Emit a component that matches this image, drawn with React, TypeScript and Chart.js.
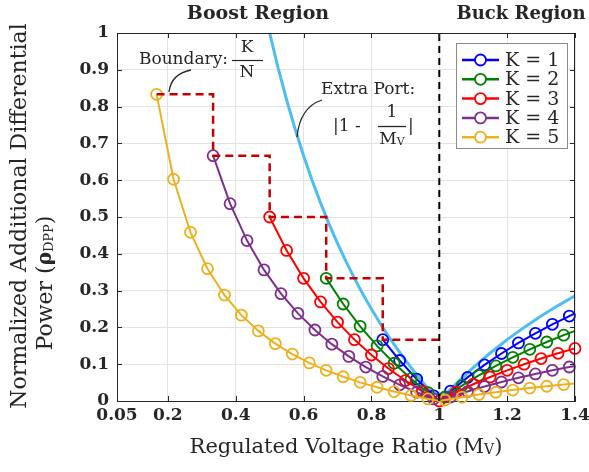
import React, { useEffect, useRef } from "react";
import { Chart, registerables } from "chart.js";
Chart.register(...registerables);

// ---------- data ----------
const xTickValues = [0.05, 0.2, 0.4, 0.6, 0.8, 1, 1.2, 1.4];
const xTickLabels = ["0.05", "0.2", "0.4", "0.6", "0.8", "1", "1.2", "1.4"];
const yTickValues = [0, 0.1, 0.2, 0.3, 0.4, 0.5, 0.6, 0.7, 0.8, 0.9, 1];
const yTickLabels = ["0", "0.1", "0.2", "0.3", "0.4", "0.5", "0.6", "0.7", "0.8", "0.9", "1"];

const seriesLabels = ["K = 1", "K = 2", "K = 3", "K = 4", "K = 5"];
const seriesColors = ["#0000FF", "#008000", "#FF0000", "#7E2F8E", "#EDB120"];

// marker points of each curve
const k1Mv = [0.8333, 0.8833, 0.9333, 0.9833, 1.0333, 1.0833, 1.1333, 1.1833, 1.2333, 1.2833, 1.3333, 1.3833];
const k1Rho = [0.1667, 0.1101, 0.0595, 0.0141, 0.0269, 0.0641, 0.098, 0.1291, 0.1577, 0.184, 0.2083, 0.2309];

const k2Mv = [0.6667, 0.7167, 0.7667, 0.8167, 0.8667, 0.9167, 0.9667, 1.0167, 1.0667, 1.1167, 1.1667, 1.2167, 1.2667, 1.3167, 1.3667];
const k2Rho = [0.3333, 0.2636, 0.2029, 0.1497, 0.1026, 0.0606, 0.023, 0.0109, 0.0417, 0.0697, 0.0952, 0.1187, 0.1404, 0.1603, 0.1789];

const k3Mv = [0.5, 0.55, 0.6, 0.65, 0.7, 0.75, 0.8, 0.85, 0.9, 0.95, 1.0, 1.05, 1.1, 1.15, 1.2, 1.25, 1.3, 1.35, 1.4];
const k3Rho = [0.5, 0.4091, 0.3333, 0.2692, 0.2143, 0.1667, 0.125, 0.0882, 0.0556, 0.0263, 0, 0.0238, 0.0455, 0.0652, 0.0833, 0.1, 0.1154, 0.1296, 0.1429];

const k4Mv = [0.3333, 0.3833, 0.4333, 0.4833, 0.5333, 0.5833, 0.6333, 0.6833, 0.7333, 0.7833, 0.8333, 0.8833, 0.9333, 0.9833, 1.0333, 1.0833, 1.1333, 1.1833, 1.2333, 1.2833, 1.3333, 1.3833];
const k4Rho = [0.6667, 0.5362, 0.4359, 0.3563, 0.2917, 0.2381, 0.193, 0.1545, 0.1212, 0.0922, 0.0667, 0.044, 0.0238, 0.0056, 0.0108, 0.0256, 0.0392, 0.0516, 0.0631, 0.0736, 0.0833, 0.0924];

const k5Mv = [0.1667, 0.2167, 0.2667, 0.3167, 0.3667, 0.4167, 0.4667, 0.5167, 0.5667, 0.6167, 0.6667, 0.7167, 0.7667, 0.8167, 0.8667, 0.9167, 0.9667, 1.0167, 1.0667, 1.1167, 1.1667, 1.2167, 1.2667, 1.3167, 1.3667];
const k5Rho = [0.8333, 0.6026, 0.4583, 0.3596, 0.2879, 0.2333, 0.1905, 0.1559, 0.1275, 0.1036, 0.0833, 0.0659, 0.0507, 0.0374, 0.0256, 0.0152, 0.0057, 0.0027, 0.0104, 0.0174, 0.0238, 0.0297, 0.0351, 0.0401, 0.0447];

// line-only vertices (valley at Mv = 1 and right edge)
const valleyMv = 1;
const valleyRho = 0;
const edgeMv = 1.4;
const edgeRho = [0.2381, 0.1905, 0.1429, 0.0952, 0.0476];

// extra port curve |1 - 1/Mv|
const portMv = [0.48, 0.5, 0.525, 0.55, 0.575, 0.6, 0.625, 0.65, 0.675, 0.7, 0.725, 0.75, 0.775, 0.8, 0.825, 0.85, 0.875, 0.9, 0.925, 0.95, 0.975, 1.0, 1.025, 1.05, 1.1, 1.15, 1.2, 1.25, 1.3, 1.35, 1.4];
const portRho = [1.0833, 1.0, 0.9048, 0.8182, 0.7391, 0.6667, 0.6, 0.5385, 0.4815, 0.4286, 0.3793, 0.3333, 0.2903, 0.25, 0.2121, 0.1765, 0.1429, 0.1111, 0.0811, 0.0526, 0.0256, 0.015, 0.0244, 0.0476, 0.0909, 0.1304, 0.1667, 0.2, 0.2308, 0.2593, 0.2857];

// boundary K/N staircase
const boundaryMv = [0.1667, 0.3333, 0.3333, 0.5, 0.5, 0.6667, 0.6667, 0.8333, 0.8333, 1.0];
const boundaryRho = [0.8333, 0.8333, 0.6667, 0.6667, 0.5, 0.5, 0.3333, 0.3333, 0.1667, 0.1667];

// buck/boost divider
const dividerMv = [1, 1];
const dividerRho = [0, 1];

// ---------- helpers ----------
const SERIF = '"DejaVu Serif", serif';
const TXT = "#262626";

const curveMv = [k1Mv, k2Mv, k3Mv, k4Mv, k5Mv];
const curveRho = [k1Rho, k2Rho, k3Rho, k4Rho, k5Rho];

function buildCurve(i: number) {
  const pts: { x: number; y: number; m: boolean }[] = curveMv[i].map((x, j) => ({ x, y: curveRho[i][j], m: true }));
  pts.push({ x: valleyMv, y: valleyRho, m: false });
  pts.push({ x: edgeMv, y: edgeRho[i], m: false });
  pts.sort((a, b) => a.x - b.x);
  return pts;
}

type Run = { t: string; font: string; dy?: number };
function drawRuns(ctx: CanvasRenderingContext2D, runs: Run[], cx: number, cy: number) {
  let total = 0;
  const widths = runs.map((r) => {
    ctx.font = r.font;
    const w = ctx.measureText(r.t).width;
    total += w;
    return w;
  });
  let x = cx - total / 2;
  ctx.textAlign = "left";
  ctx.textBaseline = "middle";
  runs.forEach((r, i) => {
    ctx.font = r.font;
    ctx.fillText(r.t, x, cy + (r.dy || 0));
    x += widths[i];
  });
}

const overlayPlugin = {
  id: "overlay",
  afterDraw(chart: any) {
    const ctx: CanvasRenderingContext2D = chart.ctx;
    const a = chart.chartArea;
    const xs = chart.scales.x;
    const ys = chart.scales.y;
    ctx.save();

    // box + inward ticks
    ctx.strokeStyle = "#262626";
    ctx.lineWidth = 1;
    ctx.beginPath();
    ctx.moveTo(a.left, a.top + 0.5);
    ctx.lineTo(a.right, a.top + 0.5);
    ctx.moveTo(a.right - 0.5, a.top);
    ctx.lineTo(a.right - 0.5, a.bottom);
    xTickValues.forEach((v) => {
      const px = Math.round(xs.getPixelForValue(v)) + 0.5;
      ctx.moveTo(px, a.bottom);
      ctx.lineTo(px, a.bottom - 5);
      ctx.moveTo(px, a.top);
      ctx.lineTo(px, a.top + 5);
    });
    yTickValues.forEach((v) => {
      const py = Math.round(ys.getPixelForValue(v)) + 0.5;
      ctx.moveTo(a.left, py);
      ctx.lineTo(a.left + 5, py);
      ctx.moveTo(a.right, py);
      ctx.lineTo(a.right - 5, py);
    });
    ctx.stroke();

    ctx.fillStyle = TXT;
    // region titles
    ctx.textAlign = "center";
    ctx.textBaseline = "middle";
    ctx.font = `bold 19px ${SERIF}`;
    ctx.fillText("Boost Region", 258, 14);
    ctx.font = `bold 18px ${SERIF}`;
    ctx.fillText("Buck Region", 521, 14);

    // x axis title
    drawRuns(
      ctx,
      [
        { t: "Regulated Voltage Ratio (M", font: `21px ${SERIF}` },
        { t: "V", font: `14px ${SERIF}`, dy: 2 },
        { t: ")", font: `21px ${SERIF}` },
      ],
      (a.left + a.right) / 2,
      448
    );

    // y axis title
    ctx.save();
    ctx.translate(20, 216);
    ctx.rotate(-Math.PI / 2);
    drawRuns(ctx, [{ t: "Normalized Additional Differential", font: `22px ${SERIF}` }], 0, 0);
    ctx.restore();
    ctx.save();
    ctx.translate(46, 283);
    ctx.rotate(-Math.PI / 2);
    drawRuns(
      ctx,
      [
        { t: "Power (", font: `22px ${SERIF}` },
        { t: "ρ", font: `bold 20px ${SERIF}` },
        { t: "DPP", font: `13px ${SERIF}`, dy: 4 },
        { t: ")", font: `22px ${SERIF}` },
      ],
      0,
      0
    );
    ctx.restore();

    // Boundary annotation
    ctx.font = `17px ${SERIF}`;
    ctx.textAlign = "right";
    ctx.textBaseline = "middle";
    ctx.fillText("Boundary:", 228, 60);
    ctx.textAlign = "center";
    ctx.fillText("K", 247, 48);
    ctx.fillText("N", 247, 73);
    ctx.strokeStyle = TXT;
    ctx.lineWidth = 1.2;
    ctx.beginPath();
    ctx.moveTo(232, 60.5);
    ctx.lineTo(263, 60.5);
    ctx.stroke();
    ctx.lineWidth = 1.3;
    ctx.beginPath();
    ctx.moveTo(191, 70);
    ctx.quadraticCurveTo(171, 74, 169, 92);
    ctx.stroke();

    // Extra Port annotation
    ctx.textAlign = "left";
    ctx.fillText("Extra Port:", 321, 90);
    ctx.fillText("|1 -", 333, 127);
    ctx.textAlign = "center";
    ctx.fillText("1", 392, 113);
    drawRuns(
      ctx,
      [
        { t: "M", font: `17px ${SERIF}` },
        { t: "V", font: `11px ${SERIF}`, dy: 2 },
      ],
      392,
      140
    );
    ctx.font = `17px ${SERIF}`;
    ctx.textAlign = "left";
    ctx.fillText("|", 408, 127);
    ctx.beginPath();
    ctx.moveTo(378, 126.5);
    ctx.lineTo(406, 126.5);
    ctx.stroke();
    ctx.beginPath();
    ctx.moveTo(322, 100);
    ctx.quadraticCurveTo(300, 107, 297, 137);
    ctx.stroke();

    // legend
    const lx0 = 456, ly0 = 43, lw = 111, lh = 105;
    ctx.fillStyle = "#ffffff";
    ctx.fillRect(lx0, ly0, lw, lh);
    ctx.strokeStyle = "#8c8c8c";
    ctx.lineWidth = 1;
    ctx.strokeRect(lx0 + 0.5, ly0 + 0.5, lw, lh);
    seriesLabels.forEach((lab, i) => {
      const y = 60 + i * 19.3;
      ctx.strokeStyle = seriesColors[i];
      ctx.lineWidth = 2.5;
      ctx.beginPath();
      ctx.moveTo(462, y);
      ctx.lineTo(499, y);
      ctx.stroke();
      ctx.lineWidth = 1.8;
      ctx.beginPath();
      ctx.arc(480.5, y, 5.5, 0, Math.PI * 2);
      ctx.fillStyle = "#ffffff";
      ctx.fill();
      ctx.stroke();
      ctx.fillStyle = TXT;
      ctx.font = `19px ${SERIF}`;
      ctx.textAlign = "left";
      ctx.textBaseline = "middle";
      ctx.fillText(lab, 505, y + 1);
    });

    ctx.restore();
  },
};

export default function App() {
  const ref = useRef<HTMLCanvasElement>(null);
  useEffect(() => {
    const canvas = ref.current!;
    const curveSets: any[] = seriesLabels.map((lab, i) => ({
      label: lab,
      data: buildCurve(i),
      borderColor: seriesColors[i],
      backgroundColor: "rgba(0,0,0,0)",
      borderWidth: 2,
      pointStyle: "circle",
      pointRadius: (c: any) => (c.raw && c.raw.m ? 5.5 : 0),
      pointBorderWidth: 1.8,
      pointBorderColor: seriesColors[i],
      pointBackgroundColor: "rgba(0,0,0,0)",
      tension: 0,
      clip: false,
      order: 10 - i,
    }));
    const chart = new Chart(canvas, {
      type: "line",
      data: {
        datasets: [
          {
            label: "Extra Port",
            data: portMv.map((x, j) => ({ x, y: portRho[j] })),
            borderColor: "#4DBEEE",
            borderWidth: 3,
            pointRadius: 0,
            tension: 0,
            order: 20,
          },
          ...curveSets,
          {
            label: "Boundary",
            data: boundaryMv.map((x, j) => ({ x, y: boundaryRho[j] })),
            borderColor: "#C40000",
            borderWidth: 2.5,
            borderDash: [8, 5],
            pointRadius: 0,
            tension: 0,
            order: 2,
          },
          {
            label: "Divider",
            data: dividerMv.map((x, j) => ({ x, y: dividerRho[j] })),
            borderColor: "#000000",
            borderWidth: 2,
            borderDash: [7, 5],
            pointRadius: 0,
            tension: 0,
            order: 1,
          },
        ],
      },
      options: {
        responsive: false,
        devicePixelRatio: 1,
        animation: false,
        layout: { padding: { top: 33, right: 14, left: 0, bottom: 0 } },
        plugins: { legend: { display: false }, tooltip: { enabled: false } },
        scales: {
          x: {
            type: "linear",
            min: 0.05,
            max: 1.4,
            afterBuildTicks: (s: any) => {
              s.ticks = xTickValues.map((v) => ({ value: v }));
            },
            afterFit: (s: any) => {
              s.height = 71;
              s.paddingLeft = 0;
              s.paddingRight = 0;
            },
            ticks: {
              autoSkip: false,
              maxRotation: 0,
              padding: 4,
              color: TXT,
              font: { family: SERIF, size: 17, weight: "bold" },
              callback: (_v: any, i: number) => xTickLabels[i],
            },
            grid: { color: "#e3e3e3", drawTicks: false },
            border: { display: true, color: "#262626", width: 1 },
          },
          y: {
            type: "linear",
            min: 0,
            max: 1,
            afterBuildTicks: (s: any) => {
              s.ticks = yTickValues.map((v) => ({ value: v }));
            },
            afterFit: (s: any) => {
              s.width = 117;
              s.paddingTop = 0;
              s.paddingBottom = 0;
            },
            ticks: {
              autoSkip: false,
              padding: 8,
              color: TXT,
              font: { family: SERIF, size: 17, weight: "bold" },
              callback: (_v: any, i: number) => yTickLabels[i],
            },
            grid: { color: "#e3e3e3", drawTicks: false },
            border: { display: true, color: "#262626", width: 1 },
          },
        },
      },
      plugins: [overlayPlugin],
    } as any);
    return () => chart.destroy();
  }, []);
  return (
    <div style={{ position: "absolute", left: 0, top: 0, width: 589, height: 472, background: "#ffffff" }}>
      <canvas ref={ref} width={589} height={472} style={{ width: 589, height: 472, display: "block" }} />
    </div>
  );
}
